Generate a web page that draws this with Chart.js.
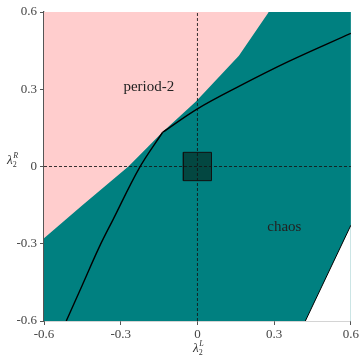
<!DOCTYPE html>
<html>
<head>
<meta charset="utf-8">
<script src="https://cdn.jsdelivr.net/npm/chart.js@4.4.1/dist/chart.umd.min.js"></script>
<style>
html,body{margin:0;padding:0;background:#fff;}
#wrap{width:361px;height:355px;}
</style>
</head>
<body>
<div id="wrap"><canvas id="c" width="361" height="355"></canvas></div>
<script>
// ---- data ----
const tickValues = [-0.6, -0.3, 0, 0.3, 0.6];
const tickLabels = ['-0.6', '-0.3', '0', '0.3', '0.6'];

// pink (period-2) boundary, region above it is pink
const period2BoundaryX = [-0.6, -0.45, -0.27, -0.137, -0.006, 0.162, 0.279];
const period2BoundaryY = [-0.279, -0.15, 0.0, 0.133, 0.252, 0.43, 0.6];

// white region boundary (lower right)
const escapeBoundaryX = [0.422, 0.6];
const escapeBoundaryY = [-0.6, -0.228];

// black curve: lower branch and upper branch meeting at a kink
const curveLowerX = [-0.513, -0.45, -0.385, -0.331, -0.227, -0.136];
const curveLowerY = [-0.6, -0.46, -0.315, -0.208, -0.005, 0.133];
const curveUpperX = [-0.136, 0, 0.162, 0.357, 0.6];
const curveUpperY = [0.133, 0.224, 0.311, 0.408, 0.517];

// square around origin
const squareHalf = 0.055;

const labels = [
  {text: 'period-2', x: -0.19, y: 0.31},
  {text: 'chaos', x: 0.34, y: -0.235}
];

const pts = (xs, ys) => xs.map((x, i) => ({x: x, y: ys[i]}));

const TEAL = '#008080';
const PINK = '#ffcdcd';
const SERIF = "'Liberation Serif', 'DejaVu Serif', serif";

const datasets = [
  { // teal base
    data: [{x: -0.6, y: 0.6}, {x: 0.6, y: 0.6}],
    showLine: true, borderWidth: 0, pointRadius: 0,
    backgroundColor: TEAL, fill: 'start', order: 20
  },
  { // pink period-2 region
    data: pts(period2BoundaryX, period2BoundaryY),
    showLine: true, borderWidth: 0, pointRadius: 0,
    backgroundColor: PINK, fill: 'end', order: 19
  },
  { // white region
    data: pts(escapeBoundaryX, escapeBoundaryY),
    showLine: true, borderWidth: 1, borderColor: '#000', pointRadius: 0,
    backgroundColor: '#ffffff', fill: 'start', order: 18
  },
  { // square fill
    data: [{x: -squareHalf, y: squareHalf}, {x: squareHalf, y: squareHalf}],
    showLine: true, borderWidth: 0, pointRadius: 0,
    backgroundColor: '#034741', fill: {value: -squareHalf}, order: 17
  },
  { // square border
    data: [{x: -squareHalf, y: -squareHalf}, {x: squareHalf, y: -squareHalf}, {x: squareHalf, y: squareHalf}, {x: -squareHalf, y: squareHalf}, {x: -squareHalf, y: -squareHalf}],
    showLine: true, borderWidth: 1, borderColor: '#111', pointRadius: 0, fill: false, order: 16
  },
  { // dashed vertical
    data: [{x: 0, y: -0.6}, {x: 0, y: 0.6}],
    showLine: true, borderWidth: 1, borderColor: 'rgba(20,20,20,0.85)', borderDash: [3, 2],
    pointRadius: 0, fill: false, order: 15
  },
  { // dashed horizontal
    data: [{x: -0.6, y: 0}, {x: 0.6, y: 0}],
    showLine: true, borderWidth: 1, borderColor: 'rgba(20,20,20,0.85)', borderDash: [3, 2],
    pointRadius: 0, fill: false, order: 14
  },
  { // black curve lower branch
    data: pts(curveLowerX, curveLowerY),
    showLine: true, borderWidth: 1.4, borderColor: '#000', pointRadius: 0,
    tension: 0.35, fill: false, order: 2
  },
  { // black curve upper branch
    data: pts(curveUpperX, curveUpperY),
    showLine: true, borderWidth: 1.4, borderColor: '#000', pointRadius: 0,
    tension: 0.35, fill: false, order: 1
  }
];

const textPlugin = {
  id: 'texts',
  afterDatasetsDraw(chart) {
    const ctx = chart.ctx, xs = chart.scales.x, ys = chart.scales.y;
    ctx.save();
    ctx.fillStyle = '#222';
    ctx.font = '15px ' + SERIF;
    ctx.textAlign = 'center';
    ctx.textBaseline = 'middle';
    labels.forEach(l => ctx.fillText(l.text, xs.getPixelForValue(l.x), ys.getPixelForValue(l.y)));
    ctx.restore();
  },
  afterDraw(chart) {
    const ctx = chart.ctx;
    ctx.save();
    ctx.fillStyle = '#333';
    ctx.textBaseline = 'alphabetic';
    ctx.textAlign = 'left';
    const drawLam = (x, y, sup) => {
      ctx.font = 'italic 13px ' + SERIF;
      ctx.fillText('λ', x, y);
      const w = ctx.measureText('λ').width;
      ctx.font = 'italic 8px ' + SERIF;
      ctx.fillText(sup, x + w + 0.5, y - 6);
      ctx.font = '8px ' + SERIF;
      ctx.fillText('2', x + w, y + 2.5);
    };
    drawLam(193, 352, 'L');
    drawLam(7, 164, 'R');
    ctx.restore();
  }
};

new Chart(document.getElementById('c'), {
  type: 'scatter',
  data: {datasets: datasets},
  plugins: [textPlugin],
  options: {
    responsive: false,
    animation: false,
    layout: {padding: {top: 12, right: 9, left: 0, bottom: 0}},
    plugins: {legend: {display: false}, tooltip: {enabled: false}},
    scales: {
      x: {
        type: 'linear', min: -0.6, max: 0.6,
        afterBuildTicks: s => { s.ticks = tickValues.map(v => ({value: v})); },
        afterFit: s => { s.height = 34; },
        ticks: {
          callback: (v, i) => tickLabels[i],
          font: {family: SERIF, size: 13}, color: '#444', padding: 2, maxRotation: 0
        },
        grid: {drawOnChartArea: false, drawTicks: true, tickLength: 4, color: '#555'},
        border: {display: true, color: '#555', width: 1.3}
      },
      y: {
        type: 'linear', min: -0.6, max: 0.6,
        afterBuildTicks: s => { s.ticks = tickValues.map(v => ({value: v})); },
        afterFit: s => { s.width = 44; },
        ticks: {
          callback: (v, i) => tickLabels[i],
          font: {family: SERIF, size: 13}, color: '#444', padding: 3
        },
        grid: {drawOnChartArea: false, drawTicks: true, tickLength: 4, color: '#555'},
        border: {display: true, color: '#555', width: 1.3}
      }
    }
  }
});
</script>
</body>
</html>
